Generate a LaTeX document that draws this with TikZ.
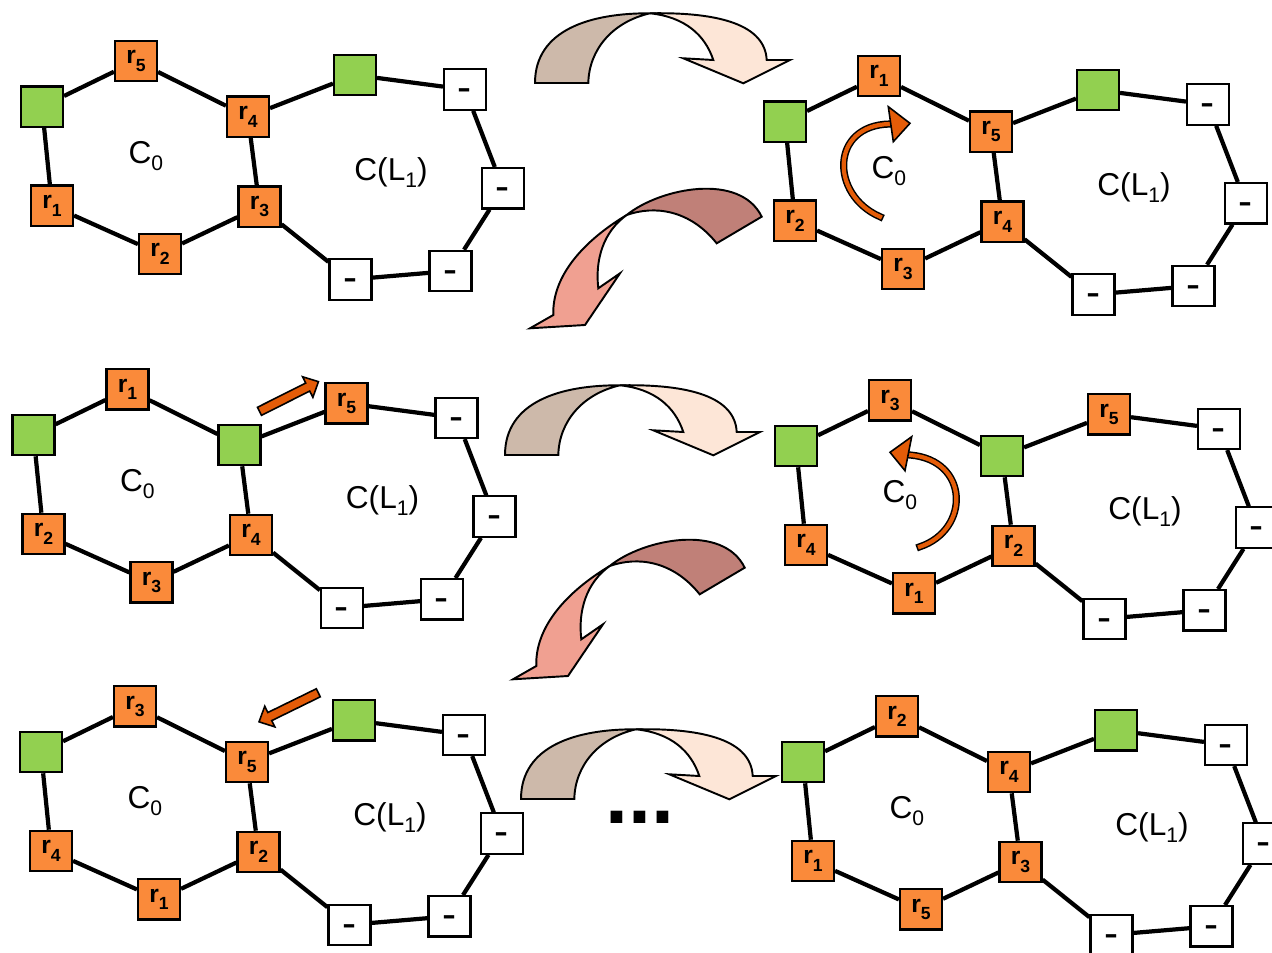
\documentclass[tikz,border=0pt]{standalone}
\usepackage{fontspec}
\setmainfont{Liberation Sans}
\usetikzlibrary{backgrounds}

\definecolor{boxorange}{RGB}{250,138,58}
\definecolor{boxgreen}{RGB}{146,208,80}
\definecolor{turntan}{RGB}{205,185,170}
\definecolor{turnpeach}{RGB}{253,230,215}
\definecolor{droprose}{RGB}{192,128,120}
\definecolor{dropsalmon}{RGB}{240,160,145}
\definecolor{moveorange}{RGB}{228,92,8}

% labels
\newcommand\rlab[1]{r\raisebox{-0.3em}{\fontsize{10}{10}\selectfont #1}}
\newcommand\csub[1]{\raisebox{-0.22em}{\fontsize{12}{12}\selectfont #1}}

\tikzset{
  cell/.style={draw=black, line width=1.2pt, minimum width=0.84cm,
               minimum height=0.81cm, inner sep=0pt},
  rbox/.style={cell, fill=boxorange, font=\fontsize{14}{14}\selectfont\bfseries},
  gbox/.style={cell, fill=boxgreen},
  wbox/.style={cell, fill=white, font=\fontsize{24}{24}\selectfont,
               text height=14pt, text depth=0pt},
  ringlab/.style={font=\fontsize{18}{18}\selectfont, inner sep=0pt},
  edge/.style={line width=2.4pt, draw=black},
  bigarrow/.style={draw=black, line width=1.1pt, line join=miter},
  movearrow/.style={draw=black, line width=0.9pt, fill=moveorange, line join=miter},
  turnshaft/.style={draw=black, line width=0.85pt, double=moveorange,
                    double distance=2.4pt, line cap=rect},
}

% one slot of the inner ring: empty digit gives a green cell
\newcommand\cellslot[3]{%
  \if\relax\detokenize{#3}\relax
    \node[gbox] (#1) at (#2) {};
  \else
    \node[rbox] (#1) at (#2) {\rlab{#3}};
  \fi}

% two joined rings: prefix, shift x, shift y, then the six slot digits
\newcommand\ringpanel[9]{%
  \begin{scope}[shift={(#2,#3)}]
    \cellslot{#1a}{42,106.7}{}
    \cellslot{#1b}{136,61}{#4}
    \cellslot{#1c}{248,116.7}{#5}
    \cellslot{#1d}{259.5,206.7}{#6}
    \cellslot{#1e}{160,254}{#7}
    \cellslot{#1f}{52,205.7}{#8}
    \cellslot{#1g}{355,75}{#9}
    \node[wbox] (#1h) at (465,89.5) {-};
    \node[wbox] (#1i) at (503,188.3) {-};
    \node[wbox] (#1j) at (450.5,271) {-};
    \node[wbox] (#1k) at (350.5,279.5) {-};
    \node[ringlab] (#1inner) at (145.8,155.7) {C\csub{0}};
    \node[ringlab] (#1outer) at (391,172.5) {C(L\csub{1})};
  \end{scope}
  \begin{scope}[on background layer]
    \draw[edge] (#1a) -- (#1b) -- (#1c) -- (#1d) -- (#1e) -- (#1f) -- (#1a);
    \draw[edge] (#1c) -- (#1g) -- (#1h) -- (#1i) -- (#1j) -- (#1k) -- (#1d);
  \end{scope}}

% curved arrow bending over to the right
\newcommand\turnarrow[2]{%
  \begin{scope}[shift={(#1,#2)}]
    \draw[bigarrow, fill=turntan] (535,83) .. controls (535,30) and (590,13) .. (650,13.3)
      .. controls (612,22) and (589,50) .. (588.3,83) -- cycle;
    \draw[bigarrow, fill=turnpeach] (650,13.3) .. controls (720,12) and (765,25) .. (766.7,60)
      -- (790,60) -- (743.3,83.3) -- (683.3,58.3) -- (713.3,60)
      .. controls (705,35) and (685,17) .. (650,13.3) -- cycle;
  \end{scope}}

% curved arrow falling back to the lower left
\newcommand\droparrow[2]{%
  \begin{scope}[shift={(#1,#2)}]
    \draw[bigarrow, fill=droprose] (626.7,215) .. controls (660,188) and (740,172) .. (761.7,216.7)
      -- (716.7,243.3) .. controls (690,210) and (655,205) .. (626.7,215) -- cycle;
    \draw[bigarrow, fill=dropsalmon] (626.7,215) .. controls (585,240) and (552,275) .. (553.3,315)
      -- (530,328.3) -- (585,325) -- (620,273.3) -- (598.3,288.3)
      .. controls (595,260) and (603,232) .. (626.7,215) -- cycle;
  \end{scope}}

% short straight block arrow: tail x, tail y, direction
\newcommand\shiftarrow[3]{%
  \draw[movearrow, shift={(#1,#2)}, rotate=#3]
    (0,-4.5) -- (54,-4.5) -- (54,-11.5) -- (66,0) -- (54,11.5) -- (54,4.5) -- (0,4.5) -- cycle;}

\begin{document}
\begin{tikzpicture}[x=0.02cm, y=-0.02cm]
  \useasboundingbox (0,0) rectangle (1272,953);

  \ringpanel{p}{0}{0}{5}{4}{3}{2}{1}{}
  \ringpanel{q}{743}{15}{1}{5}{4}{3}{2}{}
  \ringpanel{s}{-8.5}{328.3}{1}{}{4}{3}{2}{5}
  \ringpanel{t}{754}{339.3}{3}{}{2}{1}{4}{5}
  \ringpanel{u}{-1}{645.3}{3}{5}{2}{1}{4}{}
  \ringpanel{v}{761}{655.3}{2}{4}{3}{5}{1}{}

  \turnarrow{0}{0}
  \turnarrow{-30}{372}
  \turnarrow{-14}{716}
  \droparrow{0}{0}
  \droparrow{-17}{351}

  % rotation of the inner ring
  \draw[turnshaft] (880,216.7) .. controls (830,195) and (830,125) .. (890,124);
  \draw[movearrow] (888.3,106.7) -- (910,123.3) -- (893.3,141.7) -- cycle;
  \draw[turnshaft] (920,546.7) .. controls (970,530) and (970,460) .. (910,455);
  \draw[movearrow] (911.7,436.7) -- (890,452.3) -- (905,470.7) -- cycle;

  % moves of r5 between the rings
  \shiftarrow{259.5}{411.3}{26.7}
  \shiftarrow{318.3}{692.8}{206.1}

  \node[font=\fontsize{47}{47}\selectfont\bfseries, inner sep=0pt, anchor=base]
    (dots) at (640,823) {...};
\end{tikzpicture}
\end{document}
